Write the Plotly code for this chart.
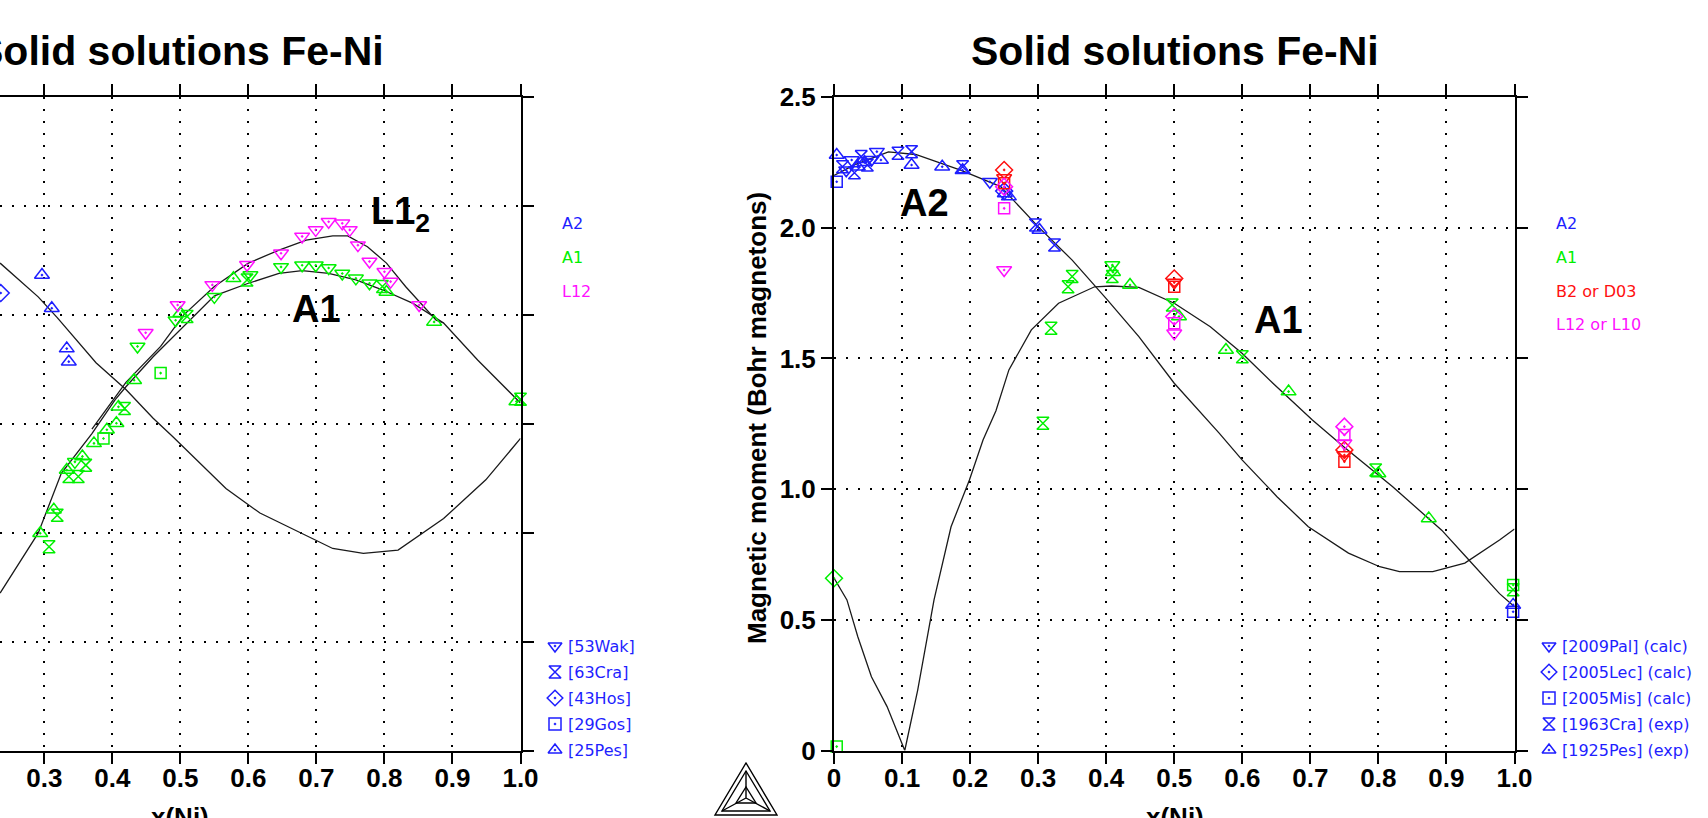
import plotly.graph_objects as go

W, H = 1708, 818

# ---------------- data : left panel (Curie temperature, K, vs x(Ni)) ----------------
LEFT_A2_CURVE_X = [0.235, 0.291, 0.319, 0.376, 0.42, 0.46, 0.489, 0.567, 0.617, 0.696, 0.724, 0.769, 0.82, 0.887, 0.949, 1.0]
LEFT_A2_CURVE_Y = [895, 833, 795, 712, 663, 610, 576, 481, 436, 387, 371, 362, 368, 426, 497, 573]

LEFT_A1_CURVE_X = [0.235, 0.291, 0.325, 0.37, 0.404, 0.42, 0.46, 0.50, 0.55, 0.60, 0.645, 0.679, 0.718, 0.758, 0.797, 0.842, 0.887, 0.937, 1.0]
LEFT_A1_CURVE_Y = [289, 399, 509, 582, 644, 668, 723, 772, 835, 858, 876, 881, 876, 864, 846, 821, 785, 717, 638]

LEFT_L12_CURVE_X = [0.37, 0.404, 0.42, 0.471, 0.505, 0.55, 0.60, 0.645, 0.685, 0.724, 0.746, 0.775, 0.803, 0.831, 0.876, 0.887]
LEFT_L12_CURVE_Y = [590, 650, 676, 742, 800, 852, 895, 919, 937, 945, 945, 925, 895, 852, 790, 785]

LEFT_A2_X = [0.236, 0.2966, 0.311, 0.333, 0.336]
LEFT_A2_Y = [840, 873, 812, 738, 714]
LEFT_A2_REF = ["Hos", "Pes", "Pes", "Pes", "Pes"]

LEFT_A1_X = [0.294, 0.307, 0.314, 0.319, 0.333, 0.336, 0.345, 0.350, 0.356, 0.361, 0.373, 0.387, 0.392, 0.406,
             0.409, 0.418, 0.432, 0.437, 0.471, 0.493, 0.50, 0.51, 0.55, 0.578, 0.598, 0.603, 0.648, 0.679,
             0.699, 0.718, 0.738, 0.758, 0.778, 0.797, 0.803, 0.873, 0.994, 1.0]
LEFT_A1_Y = [399, 374, 442, 432, 515, 503, 530, 503, 540, 524, 564, 573, 589, 601,
             631, 628, 680, 742, 693, 790, 803, 797, 833, 867, 864, 873, 888, 891,
             891, 886, 876, 867, 858, 852, 842, 787, 641, 645]
LEFT_A1_REF = ["Pes", "Cra", "Pes", "Cra", "Pes", "Cra", "Wak", "Cra", "Pes", "Cra", "Pes", "Gos", "Pes", "Pes",
               "Pes", "Cra", "Pes", "Wak", "Gos", "Wak", "Pes", "Cra", "Wak", "Pes", "Cra", "Wak", "Wak", "Wak",
               "Wak", "Wak", "Wak", "Wak", "Wak", "Cra", "Pes", "Pes", "Pes", "Cra"]

LEFT_L12_X = [0.449, 0.496, 0.547, 0.598, 0.648, 0.679, 0.699, 0.718, 0.738, 0.749, 0.761, 0.778, 0.80, 0.809, 0.851]
LEFT_L12_Y = [767, 818, 855, 892, 913, 944, 956, 971, 968, 956, 928, 898, 879, 861, 818]
LEFT_L12_REF = ["Wak"] * 15

# ---------------- data : right panel (magnetic moment, Bohr magnetons) ----------------
RIGHT_A2_CURVE_X = [0.0, 0.03, 0.08, 0.12, 0.186, 0.245, 0.30, 0.35, 0.402, 0.448, 0.50, 0.54, 0.566, 0.60, 0.651,
                    0.697, 0.756, 0.802, 0.831, 0.88, 0.927, 0.978, 1.0]
RIGHT_A2_CURVE_Y = [2.20, 2.24, 2.29, 2.28, 2.22, 2.157, 2.004, 1.876, 1.723, 1.583, 1.405, 1.29, 1.214, 1.111, 0.971,
                    0.856, 0.755, 0.703, 0.684, 0.684, 0.717, 0.805, 0.847]

RIGHT_A1_CURVE_X = [0.0, 0.019, 0.035, 0.055, 0.078, 0.104, 0.123, 0.147, 0.172, 0.199, 0.219, 0.238, 0.257, 0.29,
                    0.33, 0.383, 0.408, 0.448, 0.50, 0.553, 0.60, 0.645, 0.703, 0.749, 0.821, 0.893, 0.933, 0.978, 1.0]
RIGHT_A1_CURVE_Y = [0.66, 0.576, 0.435, 0.282, 0.168, 0.0, 0.231, 0.576, 0.856, 1.035, 1.188, 1.30, 1.456, 1.609,
                    1.711, 1.774, 1.777, 1.772, 1.711, 1.621, 1.519, 1.405, 1.264, 1.162, 1.009, 0.843, 0.729, 0.600, 0.55]

RIGHT_A2_X = [0.004, 0.004, 0.0125, 0.018, 0.026, 0.030, 0.035, 0.040, 0.045, 0.049, 0.055, 0.063, 0.069, 0.094,
              0.114, 0.114, 0.159, 0.189, 0.189, 0.229, 0.251, 0.257, 0.25, 0.296, 0.302, 0.324, 0.998, 0.998]
RIGHT_A2_Y = [2.176, 2.278, 2.233, 2.22, 2.259, 2.21, 2.233, 2.272, 2.25, 2.240, 2.26, 2.291, 2.259, 2.285,
              2.291, 2.240, 2.233, 2.233, 2.22, 2.176, 2.131, 2.119, 2.14, 2.010, 1.991, 1.934, 0.557, 0.531]
RIGHT_A2_REF = ["Mis", "Pes", "Cra", "Pal", "Pal", "Cra", "Pes", "Cra", "Pes", "Cra", "Pal", "Pal", "Pes", "Cra",
                "Cra", "Pes", "Pes", "Cra", "Pes", "Pal", "Pes", "Pes", "Lec", "Cra", "Pes", "Cra", "Pes", "Mis"]

RIGHT_A1_X = [0.0, 0.004, 0.307, 0.319, 0.344, 0.35, 0.409, 0.409, 0.41, 0.435, 0.497, 0.507, 0.576, 0.60,
              0.668, 0.796, 0.80, 0.874, 0.998, 0.998]
RIGHT_A1_Y = [0.659, 0.015, 1.252, 1.615, 1.774, 1.813, 1.857, 1.813, 1.83, 1.781, 1.704, 1.66, 1.532, 1.506,
              1.373, 1.073, 1.06, 0.888, 0.633, 0.615]
RIGHT_A1_REF = ["Lec", "Mis", "Cra", "Cra", "Cra", "Cra", "Pal", "Cra", "Pes", "Pes", "Cra", "Pes", "Pes", "Cra",
                "Pes", "Cra", "Pes", "Pes", "Mis", "Cra"]

RIGHT_B2_X = [0.25, 0.25, 0.25, 0.50, 0.50, 0.50, 0.75, 0.75, 0.75]
RIGHT_B2_Y = [2.221, 2.170, 2.19, 1.806, 1.774, 1.79, 1.15, 1.105, 1.13]
RIGHT_B2_REF = ["Lec", "Mis", "Pal", "Lec", "Mis", "Pal", "Lec", "Mis", "Pal"]

RIGHT_L12_X = [0.25, 0.25, 0.25, 0.50, 0.50, 0.50, 0.75, 0.75, 0.75]
RIGHT_L12_Y = [2.157, 2.074, 1.838, 1.66, 1.634, 1.596, 1.239, 1.207, 1.175]
RIGHT_L12_REF = ["Lec", "Mis", "Pal", "Lec", "Mis", "Pal", "Lec", "Mis", "Pal"]

LEFT_REF_ORDER = ["Wak", "Cra", "Hos", "Gos", "Pes"]
LEFT_REF_LABELS = ["[53Wak]", "[63Cra]", "[43Hos]", "[29Gos]", "[25Pes]"]
RIGHT_REF_ORDER = ["Pal", "Lec", "Mis", "Cra", "Pes"]
RIGHT_REF_LABELS = ["[2009Pal] (calc)", "[2005Lec] (calc)", "[2005Mis] (calc)", "[1963Cra] (exp)", "[1925Pes] (exp)"]
LEFT_PHASES = ["A2", "A1", "L12"]
RIGHT_PHASES = ["A2", "A1", "B2 or D03", "L12 or L10"]

LEFT_X_TICKS = [0.3, 0.4, 0.5, 0.6, 0.7, 0.8, 0.9, 1.0]
RIGHT_X_TICKS = [0, 0.1, 0.2, 0.3, 0.4, 0.5, 0.6, 0.7, 0.8, 0.9, 1.0]
RIGHT_X_TICKTEXT = ["0", "0.1", "0.2", "0.3", "0.4", "0.5", "0.6", "0.7", "0.8", "0.9", "1.0"]
LEFT_Y_TICKS = [0, 200, 400, 600, 800, 1000, 1200]
RIGHT_Y_TICKS = [0, 0.5, 1.0, 1.5, 2.0, 2.5]
RIGHT_Y_TICKTEXT = ["0", "0.5", "1.0", "1.5", "2.0", "2.5"]

# ---------------- styles ----------------
BLUE, GREEN, RED, MAGENTA = "#1E1EFF", "#00F000", "#FF1010", "#FF10FF"
SYMBOL = {
    "Wak": "triangle-down-open-dot", "Pal": "triangle-down-open-dot",
    "Cra": "hourglass-open",
    "Hos": "diamond-open-dot", "Lec": "diamond-open-dot",
    "Gos": "square-open-dot", "Mis": "square-open-dot",
    "Pes": "triangle-up-open-dot",
}
MSIZE = {"triangle-down-open-dot": 13, "hourglass-open": 12, "diamond-open-dot": 13,
         "square-open-dot": 11, "triangle-up-open-dot": 13}
SANS = "Arial, Liberation Sans, sans-serif"
SMALL = "DejaVu Sans, Verdana, sans-serif"

fig = go.Figure()


def add_curve(x, y, xa, ya):
    fig.add_trace(go.Scatter(x=x, y=y, mode="lines", xaxis=xa, yaxis=ya,
                             line=dict(color="#1a1a1a", width=1.3), hoverinfo="skip"))


def add_points(xs, ys, refs, color, xa, ya):
    for ref in sorted(set(refs)):
        px = [x for x, r in zip(xs, refs) if r == ref]
        py = [y for y, r in zip(ys, refs) if r == ref]
        sym = SYMBOL[ref]
        fig.add_trace(go.Scatter(x=px, y=py, mode="markers", xaxis=xa, yaxis=ya, cliponaxis=False,
                                 marker=dict(symbol=sym, size=MSIZE[sym], color=color,
                                             line=dict(color=color, width=1.5))))


add_curve(LEFT_A2_CURVE_X, LEFT_A2_CURVE_Y, "x", "y")
add_curve(LEFT_A1_CURVE_X, LEFT_A1_CURVE_Y, "x", "y")
add_curve(LEFT_L12_CURVE_X, LEFT_L12_CURVE_Y, "x", "y")
add_points(LEFT_A2_X, LEFT_A2_Y, LEFT_A2_REF, BLUE, "x", "y")
add_points(LEFT_A1_X, LEFT_A1_Y, LEFT_A1_REF, GREEN, "x", "y")
add_points(LEFT_L12_X, LEFT_L12_Y, LEFT_L12_REF, MAGENTA, "x", "y")

add_curve(RIGHT_A2_CURVE_X, RIGHT_A2_CURVE_Y, "x2", "y2")
add_curve(RIGHT_A1_CURVE_X, RIGHT_A1_CURVE_Y, "x2", "y2")
add_points(RIGHT_A2_X, RIGHT_A2_Y, RIGHT_A2_REF, BLUE, "x2", "y2")
add_points(RIGHT_A1_X, RIGHT_A1_Y, RIGHT_A1_REF, GREEN, "x2", "y2")
add_points(RIGHT_B2_X, RIGHT_B2_Y, RIGHT_B2_REF, RED, "x2", "y2")
add_points(RIGHT_L12_X, RIGHT_L12_Y, RIGHT_L12_REF, MAGENTA, "x2", "y2")

# ---------------- layout geometry (pixels -> paper) ----------------
PLOT_TOP, PLOT_BOTTOM = 97, 750.5
L_RIGHT = 520.5
R_LEFT, R_RIGHT = 834, 1514.5
ydom = [1 - PLOT_BOTTOM / H, 1 - PLOT_TOP / H]
left_x0 = 0.3 - 44.3 / ((L_RIGHT - 44.3) / 0.7)

axis_common = dict(showline=True, linecolor="black", linewidth=2, ticks="outside", ticklen=11,
                   tickwidth=2, tickcolor="black", showgrid=True, gridcolor="black", gridwidth=1.6,
                   griddash="2px,10px", zeroline=False, fixedrange=True, automargin=False,
                   tickfont=dict(family=SANS, size=26, color="black", weight="bold"))

fig.update_layout(
    template="none",
    width=W, height=H, margin=dict(l=0, r=0, t=0, b=0, pad=0, autoexpand=False), showlegend=False,
    paper_bgcolor="white", plot_bgcolor="rgba(0,0,0,0)",
    xaxis=dict(domain=[0, L_RIGHT / W], range=[left_x0, 1.0], anchor="y", mirror="ticks",
               tickvals=LEFT_X_TICKS, ticktext=["%.1f" % v for v in LEFT_X_TICKS],
               ticklabelstandoff=-8, **axis_common),
    yaxis=dict(domain=ydom, range=[0, 1200], anchor="x", side="right", mirror=False,
               tickvals=LEFT_Y_TICKS, showticklabels=False, **axis_common),
    xaxis2=dict(domain=[R_LEFT / W, R_RIGHT / W], range=[0, 1.0], anchor="y2", mirror="ticks",
                tickvals=RIGHT_X_TICKS, ticktext=RIGHT_X_TICKTEXT, ticklabelstandoff=-8, **axis_common),
    yaxis2=dict(domain=ydom, range=[0, 2.5], anchor="x2", mirror="ticks",
                tickvals=RIGHT_Y_TICKS, ticktext=RIGHT_Y_TICKTEXT, **axis_common),
    xaxis3=dict(domain=[0, 1], range=[0, W], visible=False, fixedrange=True, anchor="y3", automargin=False),
    yaxis3=dict(domain=[0, 1], range=[H, 0], visible=False, fixedrange=True, anchor="x3", automargin=False),
)

ann = []


def text(x, y, s, size, color="black", family=SANS, bold=False, xanchor="center", yanchor="middle", angle=0):
    ann.append(dict(x=x / W, y=1 - y / H, xref="paper", yref="paper", text=s, showarrow=False,
                    xanchor=xanchor, yanchor=yanchor, textangle=angle,
                    font=dict(family=family, size=size, color=color, weight="bold" if bold else "normal")))


# titles
text(180, 51, "Solid solutions Fe-Ni", 41, bold=True)
text(1175, 51, "Solid solutions Fe-Ni", 41, bold=True)
# axis titles
text(180, 800, "x(Ni)", 26, bold=True, yanchor="top")
text(1175, 800, "x(Ni)", 26, bold=True, yanchor="top")
text(757, 418, "Magnetic moment (Bohr magnetons)", 26, bold=True, angle=-90)
# phase labels in plots
text(369, 214, "L1<sub>2</sub>", 38, bold=True, xanchor="left")
text(316, 309, "A1", 38, bold=True)
text(924, 203, "A2", 38, bold=True)
text(1278, 320, "A1", 38, bold=True)

# phase legends
PH_COL = {"A2": BLUE, "A1": GREEN, "L12": MAGENTA, "B2 or D03": RED, "L12 or L10": MAGENTA}
for i, p in enumerate(LEFT_PHASES):
    text(560, 224 + 33.5 * i, p, 16, color=PH_COL[p], family=SMALL, xanchor="left")
for i, p in enumerate(RIGHT_PHASES):
    text(1554, 224 + 33.5 * i, p, 16, color=PH_COL[p], family=SMALL, xanchor="left")

# reference legends
ref_y = [646 + 26 * i for i in range(5)]
for i, lab in enumerate(LEFT_REF_LABELS):
    text(566, ref_y[i], lab, 16, color=BLUE, family=SMALL, xanchor="left")
for i, lab in enumerate(RIGHT_REF_LABELS):
    text(1560, ref_y[i], lab, 16, color=BLUE, family=SMALL, xanchor="left")
fig.add_trace(go.Scatter(x=[555] * 5 + [1549] * 5, y=ref_y + ref_y, xaxis="x3", yaxis="y3", mode="markers",
                         cliponaxis=False,
                         marker=dict(symbol=[SYMBOL[r] for r in LEFT_REF_ORDER] + [SYMBOL[r] for r in RIGHT_REF_ORDER],
                                     size=12, color=BLUE, line=dict(color=BLUE, width=1.5))))
fig.update_layout(annotations=ann)

# Thermo-Calc style logo (pixel coordinates)
logo_paths = [
    "M 715 815 L 777 815 L 746 763 Z",
    "M 722 811 L 770 811 L 746 771 Z",
    "M 746 771 L 746 798 M 746 798 L 722 811 M 746 798 L 770 811",
    "M 736 803 L 756 803 L 746 787 Z",
]
fig.update_layout(shapes=[dict(type="path", path=p, xref="x3", yref="y3",
                               line=dict(color="black", width=1.4)) for p in logo_paths])

fig.write_html("out.html", config={"displayModeBar": False},
               post_script="document.body.style.margin='0px';document.body.style.overflow='hidden';")
